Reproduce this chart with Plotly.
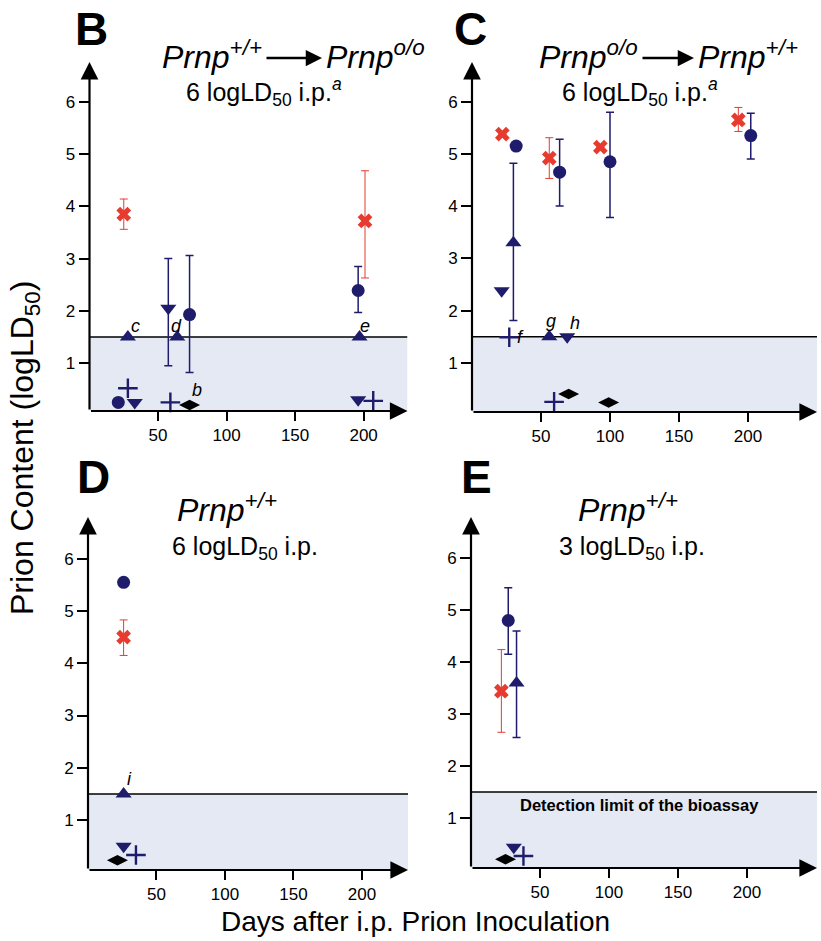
import plotly.graph_objects as go

# ---------------- data ----------------
# Panel B: Prnp+/+ -> Prnpo/o, 6 logLD50 i.p.
B_red_x = [25, 201]
B_red_y = [3.85, 3.72]
B_red_ep = [0.29, 0.96]
B_red_em = [0.29, 1.09]
B_circ_x = [21, 73, 196]
B_circ_y = [0.25, 1.93, 2.39]
B_circ_ep = [0, 1.13, 0.46]
B_circ_em = [0, 1.11, 0.42]
B_up_x = [28, 64, 197]
B_up_y = [1.5, 1.5, 1.5]
B_down_x = [33, 57.5, 196]
B_down_y = [0.25, 2.05, 0.3]
B_down_ep = [0, 0.95, 0]
B_down_em = [0, 1.1, 0]
B_star_x = [28, 59, 207]
B_star_y = [0.52, 0.25, 0.28]
B_diam_x = [73]
B_diam_y = [0.2]

# Panel C: Prnpo/o -> Prnp+/+, 6 logLD50 i.p.
C_red_x = [22, 56, 93, 193]
C_red_y = [5.38, 4.92, 5.13, 5.65]
C_red_ep = [0, 0.39, 0, 0.24]
C_red_em = [0, 0.39, 0, 0.22]
C_circ_x = [32, 63.5, 100, 202]
C_circ_y = [5.15, 4.65, 4.85, 5.35]
C_circ_ep = [0, 0.63, 0.95, 0.43]
C_circ_em = [0, 0.65, 1.07, 0.45]
C_up_x = [30, 56]
C_up_y = [3.3, 1.5]
C_up_ep = [1.52, 0]
C_up_em = [1.49, 0]
C_down_x = [21.5, 69]
C_down_y = [2.38, 1.5]
C_star_x = [27, 59.5]
C_star_y = [1.49, 0.25]
C_diam_x = [70, 99]
C_diam_y = [0.40, 0.24]

# Panel D: Prnp+/+, 6 logLD50 i.p.
D_red_x = [26]
D_red_y = [4.5]
D_red_ep = [0.33]
D_red_em = [0.35]
D_circ_x = [26]
D_circ_y = [5.55]
D_up_x = [26]
D_up_y = [1.5]
D_down_x = [26]
D_down_y = [0.5]
D_star_x = [35]
D_star_y = [0.33]
D_diam_x = [21.5]
D_diam_y = [0.23]

# Panel E: Prnp+/+, 3 logLD50 i.p.
E_red_x = [22]
E_red_y = [3.44]
E_red_ep = [0.8]
E_red_em = [0.79]
E_circ_x = [27]
E_circ_y = [4.8]
E_circ_ep = [0.63]
E_circ_em = [0.65]
E_up_x = [33]
E_up_y = [3.6]
E_up_ep = [1.0]
E_up_em = [1.05]
E_down_x = [31]
E_down_y = [0.44]
E_star_x = [38]
E_star_y = [0.27]
E_diam_x = [25]
E_diam_y = [0.21]

x_ticks = [50, 100, 150, 200]
y_ticks = [1, 2, 3, 4, 5, 6]
detection_limit = 1.5

# ---------------- styling ----------------
W, H = 821, 941
RED = "#e63b2e"
NAVY = "#1f1c6b"
SHADE = "#e4e9f3"
FONT = "Liberation Sans, Arial, sans-serif"

fig = go.Figure()

# panel geometry in pixels: (x0, x1, ytop, ybottom), data ranges
panels = {
    "B": dict(ax="", px=(89.5, 407.5), py=(62, 411), xr=(0, 232), yr=(0.086, 6.76)),
    "C": dict(ax="2", px=(472, 817), py=(62, 412), xr=(0, 250), yr=(0.057, 6.76)),
    "D": dict(ax="3", px=(88, 408), py=(517, 870), xr=(0, 233.6), yr=(0.043, 6.80)),
    "E": dict(ax="4", px=(471, 817), py=(517, 868), xr=(0, 250.7), yr=(0.04, 6.79)),
}


def err(plus, minus, color, thick, width):
    return dict(type="data", symmetric=False, array=plus, arrayminus=minus,
                color=color, thickness=thick, width=width, visible=True)


def add_series(panel, x, y, symbol, color, size, ep=None, em=None, ecolor=None,
               ethick=1.5, line=None):
    a = panels[panel]["ax"]
    tr = go.Scatter(
        x=x, y=y, mode="markers", xaxis="x" + a, yaxis="y" + a,
        marker=dict(symbol=symbol, color=color, size=size,
                    line=line or dict(width=0)),
        showlegend=False, cliponaxis=False,
    )
    if ep is not None:
        tr.error_y = err(ep, em, ecolor or color, ethick, 4)
    fig.add_trace(tr)


for p, data in [
    ("B", dict(red=(B_red_x, B_red_y, B_red_ep, B_red_em),
               circ=(B_circ_x, B_circ_y, B_circ_ep, B_circ_em),
               up=(B_up_x, B_up_y, None, None),
               down=(B_down_x, B_down_y, B_down_ep, B_down_em),
               star=(B_star_x, B_star_y), diam=(B_diam_x, B_diam_y))),
    ("C", dict(red=(C_red_x, C_red_y, C_red_ep, C_red_em),
               circ=(C_circ_x, C_circ_y, C_circ_ep, C_circ_em),
               up=(C_up_x, C_up_y, C_up_ep, C_up_em),
               down=(C_down_x, C_down_y, None, None),
               star=(C_star_x, C_star_y), diam=(C_diam_x, C_diam_y))),
    ("D", dict(red=(D_red_x, D_red_y, D_red_ep, D_red_em),
               circ=(D_circ_x, D_circ_y, None, None),
               up=(D_up_x, D_up_y, None, None),
               down=(D_down_x, D_down_y, None, None),
               star=(D_star_x, D_star_y), diam=(D_diam_x, D_diam_y))),
    ("E", dict(red=(E_red_x, E_red_y, E_red_ep, E_red_em),
               circ=(E_circ_x, E_circ_y, E_circ_ep, E_circ_em),
               up=(E_up_x, E_up_y, E_up_ep, E_up_em),
               down=(E_down_x, E_down_y, None, None),
               star=(E_star_x, E_star_y), diam=(E_diam_x, E_diam_y))),
]:
    x, y, ep, em = data["up"]
    add_series(p, x, y, "triangle-up", NAVY, 14, ep, em, NAVY, 1.5)
    x, y, ep, em = data["down"]
    add_series(p, x, y, "triangle-down", NAVY, 14, ep, em, NAVY, 1.5)
    x, y, ep, em = data["circ"]
    add_series(p, x, y, "circle", NAVY, 13, ep, em, NAVY, 1.5)
    x, y, ep, em = data["red"]
    add_series(p, x, y, "x", RED, 13, ep, em, RED, 1.0)
    x, y = data["star"]
    add_series(p, x, y, "cross-thin", NAVY, 14, line=dict(width=2.4, color=NAVY))
    x, y = data["diam"]
    add_series(p, x, y, "diamond-wide", "black", 15)

layout = dict(
    width=W, height=H, margin=dict(l=0, r=0, t=0, b=0),
    paper_bgcolor="white", plot_bgcolor="rgba(0,0,0,0)",
    font=dict(family=FONT, color="black"),
    showlegend=False,
)

shapes = []
annotations = []
for p, g in panels.items():
    a = g["ax"]
    xa = "xaxis" + a
    ya = "yaxis" + a
    layout[xa] = dict(
        domain=[g["px"][0] / W, g["px"][1] / W], range=list(g["xr"]),
        anchor="y" + a, tickvals=x_ticks, ticks="outside", ticklen=9,
        tickwidth=2, tickcolor="black", showgrid=False, zeroline=False,
        showline=False, tickfont=dict(size=17, family=FONT, color="black"),
        fixedrange=True,
    )
    layout[ya] = dict(
        domain=[1 - g["py"][1] / H, 1 - g["py"][0] / H], range=list(g["yr"]),
        anchor="x" + a, tickvals=y_ticks, ticks="outside", ticklen=10,
        tickwidth=2, tickcolor="black", showgrid=False, zeroline=False,
        showline=False, tickfont=dict(size=17, family=FONT, color="black"),
        fixedrange=True,
    )
    xr, yr = g["xr"], g["yr"]
    shapes.append(dict(type="rect", xref="x" + a, yref="y" + a,
                       x0=xr[0], x1=xr[1], y0=yr[0], y1=detection_limit,
                       fillcolor=SHADE, line=dict(width=0), layer="below"))
    shapes.append(dict(type="line", xref="x" + a, yref="y" + a,
                       x0=xr[0], x1=xr[1], y0=detection_limit, y1=detection_limit,
                       line=dict(color="black", width=1.5), layer="below"))
    # axis arrows
    annotations.append(dict(xref="x" + a, yref="y" + a, axref="x" + a, ayref="y" + a,
                            x=xr[1], y=yr[0], ax=xr[0], ay=yr[0], text="",
                            showarrow=True, arrowhead=2, arrowsize=1.6,
                            arrowwidth=2.2, arrowcolor="black"))
    annotations.append(dict(xref="x" + a, yref="y" + a, axref="x" + a, ayref="y" + a,
                            x=xr[0], y=yr[1], ax=xr[0], ay=yr[0], text="",
                            showarrow=True, arrowhead=2, arrowsize=1.6,
                            arrowwidth=2.2, arrowcolor="black"))


def ptxt(text, px, py, size, xanchor="center", yanchor="middle", bold=False, angle=0):
    annotations.append(dict(xref="paper", yref="paper", x=px / W, y=1 - py / H,
                            text=("<b>%s</b>" % text) if bold else text,
                            showarrow=False, xanchor=xanchor, yanchor=yanchor,
                            textangle=angle,
                            font=dict(size=size, family=FONT, color="black")))


def parrow(x0, x1, py):
    annotations.append(dict(xref="paper", yref="paper", x=x1 / W, y=1 - py / H,
                            ax=-(x1 - x0), ay=0, text="", showarrow=True,
                            arrowhead=2, arrowsize=1.3, arrowwidth=2.5,
                            arrowcolor="black"))


PRNP_WT = "<i>Prnp</i><sup><i>+/+</i></sup>"
PRNP_KO = "<i>Prnp</i><sup><i>o/o</i></sup>"

# panel letters
ptxt("B", 91, 29, 46, bold=True)
ptxt("C", 471, 29, 46, bold=True)
ptxt("D", 93, 477, 46, bold=True)
ptxt("E", 476, 477, 46, bold=True)

# titles
ptxt(PRNP_WT, 264, 55, 32, xanchor="right")
parrow(265, 322, 58)
ptxt(PRNP_KO, 324, 55, 32, xanchor="left")
ptxt("6 logLD<sub>50</sub> i.p.<sup><i>a</i></sup>", 264, 92, 25)

ptxt(PRNP_KO, 640, 55, 32, xanchor="right")
parrow(641, 694, 58)
ptxt(PRNP_WT, 696, 55, 32, xanchor="left")
ptxt("6 logLD<sub>50</sub> i.p.<sup><i>a</i></sup>", 640, 92, 25)

ptxt(PRNP_WT, 227, 508, 32)
ptxt("6 logLD<sub>50</sub> i.p.", 245, 548, 25)
ptxt(PRNP_WT, 628, 508, 32)
ptxt("3 logLD<sub>50</sub> i.p.", 632, 548, 25)

# axis titles
ptxt("Prion Content (logLD<sub>50</sub>)", 24, 448, 32, angle=-90)
ptxt("Days after i.p. Prion Inoculation", 416, 921, 28)


# footnote letters on data points
def dlabel(panel, text, x, y, size=18, bold=False):
    a = panels[panel]["ax"]
    t = "<i>%s</i>" % text
    annotations.append(dict(xref="x" + a, yref="y" + a, x=x, y=y,
                            text=("<b>%s</b>" % t) if bold else t,
                            showarrow=False,
                            font=dict(size=size, family=FONT, color="black")))


dlabel("B", "c", 33.2, 1.72)
dlabel("B", "d", 63.6, 1.72)
dlabel("B", "e", 201, 1.72)
dlabel("B", "b", 78.2, 0.48)
dlabel("C", "f", 35, 1.5)
dlabel("C", "g", 56.9, 1.8)
dlabel("C", "h", 74.6, 1.77)
dlabel("D", "i", 30.1, 1.78)

annotations.append(dict(xref="x4", yref="y4", x=122, y=1.25,
                        text="<b>Detection limit of the bioassay</b>",
                        showarrow=False,
                        font=dict(size=16.5, family=FONT, color="black")))

layout["shapes"] = shapes
layout["annotations"] = annotations
fig.update_layout(**layout)

fig.write_html("out.html", config={"displayModeBar": False, "staticPlot": True},
               post_script="document.body.style.margin='0';")
